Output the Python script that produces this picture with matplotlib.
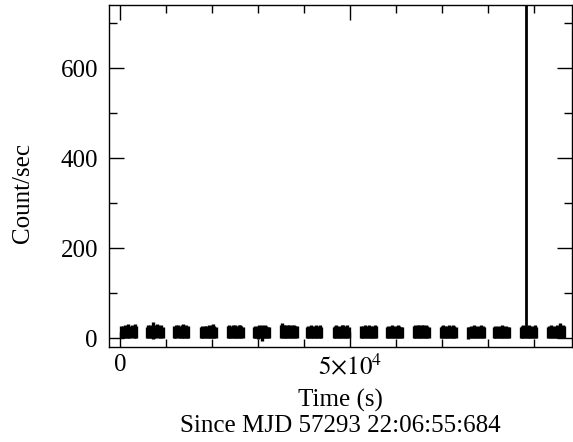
"""
Light curve plot: count rate versus time with per-orbit data segments.
"""

import numpy
import matplotlib.pyplot as plt
from matplotlib.ticker import MultipleLocator, FixedLocator, FixedFormatter

plt.rcParams['font.family'] = ['Liberation Serif', 'DejaVu Serif']
plt.rcParams['mathtext.fontset'] = 'stix'

# Start time (s) and length (s) of each good-time interval
orbit_start = [0, 5540, 11410, 17280, 23150, 28800, 34670, 40330, 46200,
	52070, 57720, 63590, 69460, 75330, 80980, 86850, 92720]
orbit_length = [3600, 3800, 3500, 3600, 3600, 3700, 3800, 3500, 3600,
	3700, 3700, 3600, 3600, 4000, 3700, 3700, 4000]

# Binned count rates (count/s), twelve bins per interval
orbit_rates = [
	[13, 14, 12, 15, 13, 16, 14, 13, 15, 12, 16, 13],
	[12, 14, 15, 13, 16, 12, 15, 17, 14, 13, 15, 12],
	[13, 12, 14, 15, 13, 12, 14, 16, 13, 14, 12, 13],
	[12, 13, 12, 14, 13, 12, 15, 13, 14, 16, 13, 12],
	[13, 14, 12, 13, 15, 14, 12, 13, 14, 15, 13, 12],
	[12, 13, 12, 12, 14, 13, 11, 12, 14, 13, 12, 12],
	[14, 17, 15, 14, 13, 15, 14, 13, 15, 14, 13, 14],
	[12, 13, 12, 14, 13, 12, 13, 14, 12, 13, 14, 12],
	[12, 13, 14, 12, 13, 12, 14, 15, 13, 12, 14, 12],
	[13, 12, 13, 14, 12, 13, 14, 13, 12, 13, 14, 13],
	[12, 13, 12, 13, 14, 13, 12, 13, 14, 13, 12, 12],
	[13, 14, 13, 15, 14, 13, 14, 15, 13, 14, 13, 12],
	[12, 13, 14, 13, 12, 13, 14, 13, 12, 15, 13, 12],
	[11, 12, 13, 12, 14, 13, 12, 13, 12, 14, 13, 12],
	[12, 13, 12, 13, 12, 13, 14, 13, 12, 13, 12, 12],
	[12, 13, 14, 13, 12, 13, 14, 13, 12, 13, 14, 12],
	[12, 13, 14, 13, 12, 13, 15, 13, 16, 13, 14, 13],
]

# One-sigma errors on the binned rates (count/s)
orbit_errors = [
	[13, 13, 12, 14, 13, 15, 13, 12, 13, 13, 16, 13],
	[13, 14, 15, 13, 19, 13, 14, 15, 14, 13, 14, 13],
	[13, 13, 14, 13, 13, 13, 14, 15, 13, 14, 13, 13],
	[13, 13, 13, 13, 13, 13, 14, 13, 14, 15, 13, 13],
	[13, 14, 13, 13, 14, 14, 13, 13, 14, 14, 13, 13],
	[13, 13, 13, 14, 14, 13, 17, 13, 14, 13, 13, 13],
	[14, 16, 14, 14, 13, 14, 14, 13, 14, 14, 13, 13],
	[13, 13, 13, 14, 13, 13, 13, 14, 13, 13, 14, 13],
	[13, 13, 14, 13, 13, 13, 14, 15, 13, 13, 14, 13],
	[13, 13, 13, 14, 13, 13, 14, 13, 13, 13, 14, 13],
	[13, 13, 13, 13, 14, 13, 13, 13, 14, 13, 13, 13],
	[13, 14, 13, 14, 14, 13, 14, 14, 13, 14, 13, 13],
	[13, 13, 14, 13, 13, 13, 14, 13, 13, 15, 13, 13],
	[13, 13, 13, 13, 14, 13, 13, 13, 13, 14, 13, 13],
	[13, 13, 13, 13, 13, 13, 14, 13, 13, 13, 13, 13],
	[13, 13, 14, 13, 13, 13, 14, 13, 13, 13, 14, 13],
	[13, 13, 14, 13, 13, 13, 15, 13, 17, 13, 14, 13],
]

# Short burst bin inside the second-to-last interval
flare_time = 88150
flare_rate = 460
flare_error = 440

x_ticks = [0, 50000]
x_tick_labels = ['0', r'$5{\times}10^4$']
y_ticks = [0, 200, 400, 600]


fig = plt.figure(figsize=(5.73, 4.42), dpi=100)
ax = fig.add_axes([109 / 573, 95 / 442, 463 / 573, 342 / 442])

for start, length, rates, errors in zip(orbit_start, orbit_length, orbit_rates, orbit_errors):
	n_bins = len(rates)
	bin_width = length / n_bins
	times = start + bin_width * (numpy.arange(n_bins) + 0.5)
	ax.errorbar(times, rates, yerr=errors, xerr=bin_width / 2, fmt='none',
		ecolor='black', elinewidth=2.4, capsize=0)

ax.errorbar([flare_time], [flare_rate], yerr=[flare_error], fmt='none',
	ecolor='black', elinewidth=2.0, capsize=0)

ax.set_xlim(-2500, 98200)
ax.set_ylim(-20, 741)

ax.xaxis.set_major_locator(FixedLocator(x_ticks))
ax.xaxis.set_major_formatter(FixedFormatter(x_tick_labels))
ax.xaxis.set_minor_locator(MultipleLocator(10000))
ax.yaxis.set_major_locator(FixedLocator(y_ticks))
ax.yaxis.set_minor_locator(MultipleLocator(100))

ax.tick_params(which='both', direction='in', top=True, right=True, width=1.0,
	labelsize=18)
ax.tick_params(axis='x', pad=5)
ax.tick_params(axis='y', pad=8)
ax.tick_params(which='major', length=11)
ax.tick_params(which='minor', length=6)
for spine in ax.spines.values():
	spine.set_linewidth(1.0)

ax.set_ylabel('Count/sec', fontsize=18)
ax.yaxis.set_label_coords(-0.162, 0.45)
ax.set_xlabel('Time (s)', fontsize=18, labelpad=7)
fig.text(340 / 573, 1 - 426 / 442, 'Since MJD 57293 22:06:55:684',
	ha='center', va='center', fontsize=18)

plt.savefig('out.png', dpi=100)
plt.close()
